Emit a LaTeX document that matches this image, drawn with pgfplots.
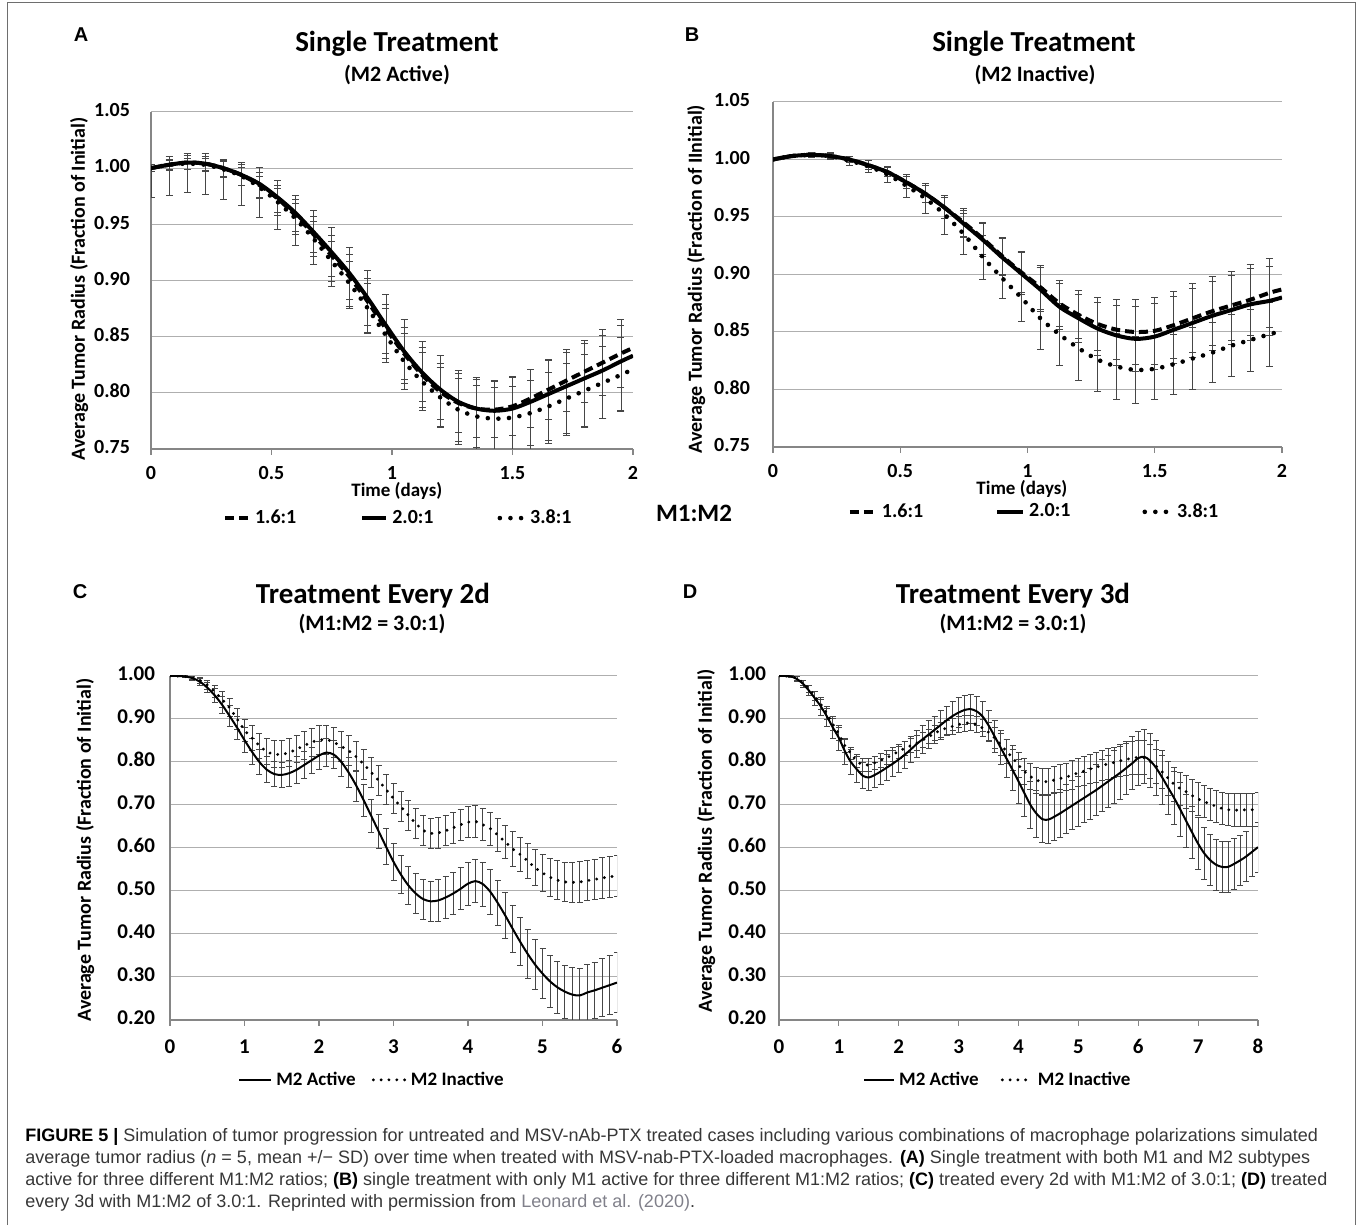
\documentclass[border=0pt]{standalone}
\usepackage{pgfplots}
\pgfplotsset{compat=1.18}
\usepackage{pgfplotstable}
\usepackage{fontspec}
\setmainfont{Carlito}
\newfontfamily\capfont{Liberation Sans}
\definecolor{axisgray}{RGB}{134,134,134}
\definecolor{gridgray}{RGB}{175,175,175}
\definecolor{errgray}{RGB}{70,70,70}
\definecolor{captext}{RGB}{55,55,55}
\definecolor{linkgray}{RGB}{128,128,138}
\definecolor{framegray}{RGB}{110,110,110}

% Panel A: t, 1.6:1, 2.0:1, 3.8:1, SD(+/-) of 2.0:1, SD of 1.6:1, SD of 3.8:1
\pgfplotstableread{
t     s16   s20   s38   p20   m20   e16   e38
0.000 1.000 1.000 1.000 0.003 0.026 0.003 0.003
0.075 1.003 1.003 1.003 0.007 0.027 0.005 0.004
0.150 1.005 1.005 1.004 0.008 0.027 0.006 0.005
0.225 1.004 1.004 1.003 0.009 0.027 0.006 0.006
0.300 1.000 1.000 0.999 0.008 0.028 0.007 0.007
0.375 0.994 0.994 0.993 0.011 0.027 0.009 0.008
0.450 0.985 0.986 0.983 0.015 0.030 0.011 0.010
0.525 0.973 0.974 0.970 0.015 0.029 0.012 0.012
0.600 0.958 0.960 0.955 0.016 0.029 0.014 0.014
0.675 0.941 0.943 0.937 0.019 0.029 0.016 0.016
0.750 0.922 0.925 0.917 0.022 0.030 0.018 0.018
0.825 0.903 0.906 0.897 0.023 0.031 0.020 0.020
0.900 0.881 0.884 0.875 0.025 0.030 0.021 0.022
0.975 0.857 0.860 0.851 0.028 0.029 0.022 0.024
1.050 0.835 0.837 0.828 0.028 0.029 0.023 0.025
1.125 0.816 0.818 0.810 0.028 0.031 0.024 0.026
1.200 0.801 0.803 0.796 0.030 0.033 0.025 0.027
1.275 0.791 0.792 0.785 0.028 0.038 0.026 0.028
1.350 0.786 0.786 0.779 0.028 0.036 0.026 0.028
1.425 0.785 0.784 0.777 0.027 0.035 0.025 0.028
1.500 0.788 0.786 0.778 0.029 0.037 0.026 0.028
1.575 0.795 0.792 0.782 0.029 0.042 0.026 0.029
1.650 0.803 0.799 0.788 0.030 0.044 0.027 0.030
1.725 0.811 0.806 0.795 0.030 0.044 0.028 0.031
1.800 0.819 0.813 0.802 0.031 0.044 0.028 0.032
1.875 0.827 0.820 0.809 0.031 0.043 0.029 0.032
1.950 0.835 0.828 0.816 0.032 0.044 0.030 0.033
2.000 0.840 0.833 0.821 0.000 0.000 0.000 0.000
}\tabA

% Panel B: t, 1.6:1, 2.0:1, 3.8:1, SD (1.6:1 and 2.0:1), SD (3.8:1)
\pgfplotstableread{
t     b16   b20   b38   e20   e38
0.000 1.000 1.000 1.000 0.001 0.001
0.075 1.003 1.003 1.003 0.001 0.001
0.150 1.004 1.004 1.004 0.002 0.002
0.225 1.003 1.003 1.003 0.002 0.003
0.300 1.000 1.000 0.999 0.003 0.004
0.375 0.995 0.995 0.994 0.004 0.005
0.450 0.989 0.989 0.987 0.004 0.007
0.525 0.980 0.980 0.977 0.005 0.010
0.600 0.970 0.970 0.966 0.007 0.013
0.675 0.958 0.958 0.952 0.009 0.017
0.750 0.945 0.944 0.935 0.012 0.018
0.825 0.931 0.930 0.915 0.014 0.019
0.900 0.916 0.915 0.897 0.016 0.018
0.975 0.902 0.901 0.880 0.018 0.021
1.050 0.889 0.887 0.862 0.019 0.027
1.125 0.875 0.872 0.848 0.020 0.027
1.200 0.865 0.862 0.836 0.021 0.028
1.275 0.857 0.853 0.826 0.023 0.028
1.350 0.852 0.847 0.820 0.026 0.029
1.425 0.850 0.844 0.817 0.028 0.029
1.500 0.851 0.846 0.818 0.029 0.027
1.575 0.856 0.852 0.822 0.029 0.026
1.650 0.862 0.858 0.827 0.030 0.027
1.725 0.868 0.864 0.832 0.030 0.026
1.800 0.873 0.869 0.838 0.030 0.027
1.875 0.878 0.874 0.843 0.031 0.027
1.950 0.884 0.877 0.848 0.030 0.028
2.000 0.887 0.880 0.851 0.000 0.000
}\tabB

% Panel C: t, M2 active, SD, M2 inactive, SD
\pgfplotstableread{
t   a     sa    b     sb
0.0 1.000 0.000 1.000 0.000
0.1 1.000 0.001 1.000 0.001
0.2 0.999 0.002 0.999 0.002
0.3 0.995 0.005 0.996 0.004
0.4 0.987 0.008 0.990 0.007
0.5 0.973 0.012 0.979 0.010
0.6 0.955 0.016 0.963 0.014
0.7 0.933 0.020 0.945 0.018
0.8 0.907 0.024 0.926 0.021
0.9 0.880 0.027 0.900 0.024
1.0 0.851 0.029 0.874 0.026
1.1 0.824 0.030 0.856 0.028
1.2 0.800 0.030 0.838 0.029
1.3 0.782 0.030 0.824 0.030
1.4 0.772 0.030 0.818 0.031
1.5 0.770 0.030 0.818 0.031
1.6 0.774 0.030 0.822 0.032
1.7 0.782 0.031 0.830 0.032
1.8 0.793 0.031 0.838 0.033
1.9 0.804 0.031 0.846 0.033
2.0 0.815 0.032 0.851 0.034
2.1 0.822 0.032 0.852 0.034
2.2 0.817 0.033 0.846 0.035
2.3 0.800 0.034 0.836 0.035
2.4 0.775 0.035 0.826 0.035
2.5 0.745 0.036 0.812 0.035
2.6 0.711 0.037 0.795 0.035
2.7 0.675 0.039 0.776 0.035
2.8 0.639 0.040 0.757 0.035
2.9 0.603 0.042 0.736 0.035
3.0 0.568 0.043 0.715 0.035
3.1 0.538 0.044 0.696 0.035
3.2 0.513 0.045 0.676 0.035
3.3 0.494 0.046 0.657 0.035
3.4 0.481 0.047 0.641 0.035
3.5 0.476 0.047 0.634 0.035
3.6 0.478 0.048 0.635 0.035
3.7 0.485 0.048 0.640 0.035
3.8 0.494 0.049 0.647 0.036
3.9 0.505 0.049 0.654 0.036
4.0 0.517 0.050 0.660 0.036
4.1 0.523 0.050 0.662 0.037
4.2 0.516 0.051 0.654 0.037
4.3 0.498 0.052 0.645 0.038
4.4 0.472 0.053 0.630 0.038
4.5 0.443 0.054 0.614 0.039
4.6 0.412 0.055 0.598 0.040
4.7 0.382 0.056 0.585 0.040
4.8 0.354 0.057 0.570 0.041
4.9 0.329 0.058 0.554 0.042
5.0 0.308 0.059 0.542 0.043
5.1 0.290 0.060 0.532 0.044
5.2 0.276 0.061 0.525 0.045
5.3 0.266 0.062 0.521 0.046
5.4 0.259 0.063 0.520 0.047
5.5 0.257 0.064 0.521 0.048
5.6 0.264 0.065 0.524 0.047
5.7 0.269 0.066 0.527 0.047
5.8 0.275 0.067 0.530 0.047
5.9 0.281 0.068 0.533 0.047
6.0 0.287 0.070 0.535 0.047
}\tabC

% Panel D: t, M2 active, SD, M2 inactive, SD
\pgfplotstableread{
t   a     sa    b     sb
0.0 1.000 0.000 1.000 0.000
0.1 1.000 0.001 1.000 0.001
0.2 0.999 0.002 0.999 0.002
0.3 0.993 0.005 0.994 0.004
0.4 0.982 0.008 0.984 0.006
0.5 0.966 0.012 0.970 0.008
0.6 0.948 0.016 0.953 0.010
0.7 0.929 0.020 0.934 0.012
0.8 0.906 0.023 0.912 0.013
0.9 0.880 0.026 0.888 0.014
1.0 0.856 0.028 0.865 0.015
1.1 0.825 0.030 0.838 0.015
1.2 0.800 0.030 0.820 0.015
1.3 0.783 0.030 0.802 0.015
1.4 0.768 0.030 0.794 0.015
1.5 0.764 0.030 0.793 0.015
1.6 0.770 0.030 0.798 0.015
1.7 0.778 0.030 0.804 0.016
1.8 0.787 0.030 0.810 0.016
1.9 0.796 0.030 0.817 0.016
2.0 0.806 0.031 0.825 0.016
2.1 0.817 0.031 0.832 0.016
2.2 0.829 0.031 0.838 0.016
2.3 0.842 0.032 0.844 0.017
2.4 0.853 0.032 0.851 0.017
2.5 0.864 0.032 0.859 0.017
2.6 0.875 0.032 0.867 0.017
2.7 0.886 0.033 0.874 0.017
2.8 0.897 0.033 0.879 0.017
2.9 0.907 0.033 0.883 0.018
3.0 0.915 0.034 0.887 0.018
3.1 0.921 0.034 0.890 0.018
3.2 0.923 0.034 0.891 0.018
3.3 0.918 0.034 0.887 0.018
3.4 0.906 0.034 0.879 0.020
3.5 0.885 0.035 0.869 0.022
3.6 0.860 0.037 0.856 0.024
3.7 0.834 0.040 0.841 0.026
3.8 0.808 0.044 0.825 0.028
3.9 0.782 0.048 0.810 0.029
4.0 0.755 0.051 0.793 0.030
4.1 0.727 0.053 0.778 0.030
4.2 0.700 0.054 0.766 0.030
4.3 0.680 0.055 0.758 0.030
4.4 0.667 0.055 0.754 0.030
4.5 0.666 0.056 0.755 0.031
4.6 0.673 0.056 0.758 0.031
4.7 0.681 0.056 0.762 0.032
4.8 0.690 0.057 0.765 0.032
4.9 0.699 0.057 0.770 0.033
5.0 0.708 0.058 0.775 0.033
5.1 0.717 0.058 0.779 0.034
5.2 0.726 0.059 0.784 0.034
5.3 0.735 0.059 0.788 0.035
5.4 0.745 0.060 0.792 0.035
5.5 0.755 0.060 0.796 0.036
5.6 0.765 0.061 0.799 0.036
5.7 0.775 0.061 0.803 0.037
5.8 0.786 0.062 0.806 0.038
5.9 0.797 0.062 0.809 0.039
6.0 0.809 0.063 0.811 0.040
6.1 0.812 0.063 0.810 0.040
6.2 0.803 0.063 0.801 0.040
6.3 0.786 0.063 0.790 0.040
6.4 0.764 0.062 0.777 0.039
6.5 0.740 0.062 0.762 0.039
6.6 0.716 0.062 0.748 0.039
6.7 0.690 0.062 0.738 0.038
6.8 0.663 0.061 0.731 0.038
6.9 0.636 0.061 0.722 0.038
7.0 0.610 0.061 0.714 0.038
7.1 0.588 0.060 0.708 0.037
7.2 0.572 0.060 0.702 0.037
7.3 0.561 0.060 0.697 0.037
7.4 0.556 0.059 0.692 0.037
7.5 0.556 0.059 0.689 0.037
7.6 0.563 0.059 0.688 0.038
7.7 0.571 0.059 0.688 0.038
7.8 0.580 0.058 0.689 0.039
7.9 0.591 0.058 0.689 0.039
8.0 0.602 0.058 0.690 0.040
}\tabD

\pgfplotsset{
  base/.style={
    scale only axis, anchor=south west, enlargelimits=false, clip=true,
    axis x line*=bottom, axis y line*=left,
    axis line style={draw=axisgray, line width=0.6pt, -},
    every outer x axis line/.append style={-},
    every outer y axis line/.append style={-},
    ymajorgrids, grid style={draw=gridgray, line width=0.5pt},
    tick align=outside, major tick length=3pt,
    xtick style={draw=axisgray, line width=0.6pt},
    ytick style={draw=none},
    typeset ticklabels with strut,
    /pgf/number format/assume math mode=true,
    ticklabel style={font=\bfseries\fontsize{10}{12}\selectfont},
    yticklabel style={/pgf/number format/fixed, /pgf/number format/fixed zerofill, /pgf/number format/precision=2},
    legend style={draw=none, fill=none, font=\bfseries\fontsize{10}{12}\selectfont, legend columns=3, anchor=center},
    legend cell align=left,
    every axis y label/.style={rotate=90, anchor=center, font=\bfseries\fontsize{10}{12}\selectfont},
    every axis x label/.style={anchor=center, font=\bfseries\fontsize{9.5}{11}\selectfont},
    error bars/error bar style={draw=errgray, line width=0.45pt, solid},
    error bars/error mark options={draw=errgray, line width=0.45pt, mark size=1.75pt, solid, rotate=90},
  },
  ebar/.style={draw=none, mark=none, forget plot, error bars/y dir=both, error bars/y explicit},
  solidA/.style={black, line width=2pt, smooth, mark=none},
  dashA/.style={black, line width=2pt, smooth, mark=none, dash pattern=on 4.5pt off 2.5pt},
  dotA/.style={black, line width=2.3pt, smooth, mark=none, line cap=round, dash pattern=on 0pt off 5.3pt},
  solidC/.style={black, line width=1pt, smooth, mark=none},
  dotC/.style={black, line width=1.6pt, smooth, mark=none, line cap=round, dash pattern=on 0pt off 3.9pt},
}

\begin{document}
\begin{tikzpicture}
\path[use as bounding box] (0,0) rectangle (679pt,612.5pt);
\draw[framegray, line width=0.8pt] (3.75pt,0pt) -- (3.75pt,611.25pt) -- (677.75pt,611.25pt) -- (677.75pt,0pt);

% ---------- Panel A ----------
\node[font=\capfont\bfseries\fontsize{10}{12}\selectfont] at (40.5pt,595pt) {A};
\node[font=\bfseries\fontsize{14.5}{17}\selectfont] at (198.5pt,590.5pt) {Single Treatment};
\node[font=\bfseries\fontsize{11}{13}\selectfont] at (198.5pt,575pt) {(M2 Active)};
\begin{axis}[base, at={(75.5pt,388pt)}, width=241pt, height=168.5pt,
  xmin=0, xmax=2, ymin=0.75, ymax=1.05,
  xtick={0,0.5,1,1.5,2}, ytick={0.75,0.8,0.85,0.9,0.95,1,1.05},
  xticklabel style={yshift=-0.5pt}, yticklabel style={xshift=-4pt},
  xlabel={Time (days)}, ylabel={Average Tumor Radius (Fraction of Initial)},
  xlabel style={at={(axis description cs:0.51,-0.125)}},
  ylabel style={at={(axis description cs:-0.149,0.475)}},
  legend style={at={(0.515,-0.205)}, /tikz/every even column/.append style={column sep=30pt}},
  legend image code/.code={\draw[#1] (0pt,0pt) -- (12pt,0pt);},
]
\addplot[restrict x to domain=0:1.96, ebar] table[x=t, y=s16, y error=e16] {\tabA};
\addplot[restrict x to domain=0:1.96, ebar] table[x=t, y=s38, y error=e38] {\tabA};
\addplot[restrict x to domain=0:1.96, ebar] table[x=t, y=s20, y error plus=p20, y error minus=m20] {\tabA};
\addplot[dashA] table[x=t, y=s16] {\tabA};
\addlegendentry{1.6:1}
\addplot[solidA] table[x=t, y=s20] {\tabA};
\addlegendentry{2.0:1}
\addplot[dotA] table[x=t, y=s38] {\tabA};
\addlegendentry{3.8:1}
\end{axis}

% ---------- Panel B ----------
\node[font=\capfont\bfseries\fontsize{10}{12}\selectfont] at (346pt,595pt) {B};
\node[font=\bfseries\fontsize{14.5}{17}\selectfont] at (517pt,590.5pt) {Single Treatment};
\node[font=\bfseries\fontsize{11}{13}\selectfont] at (517.5pt,575pt) {(M2 Inactive)};
\node[font=\bfseries\fontsize{12.5}{15}\selectfont] at (347pt,356pt) {M1:M2};
\begin{axis}[base, at={(386.5pt,389pt)}, width=254.5pt, height=172.5pt,
  xmin=0, xmax=2, ymin=0.75, ymax=1.05,
  xtick={0,0.5,1,1.5,2}, ytick={0.75,0.8,0.85,0.9,0.95,1,1.05},
  xticklabel style={yshift=-0.5pt}, yticklabel style={xshift=-5pt},
  xlabel={Time (days)}, ylabel={Average Tumor Radius (Fraction of IInitial)},
  xlabel style={at={(axis description cs:0.489,-0.122)}},
  ylabel style={at={(axis description cs:-0.151,0.487)}},
  legend style={at={(0.515,-0.188)}, /tikz/every even column/.append style={column sep=34pt}},
  legend image code/.code={\draw[#1] (0pt,0pt) -- (13pt,0pt);},
]
\addplot[restrict x to domain=0:1.96, ebar] table[x=t, y=b16, y error=e20] {\tabB};
\addplot[restrict x to domain=0:1.96, ebar] table[x=t, y=b38, y error=e38] {\tabB};
\addplot[restrict x to domain=0:1.96, ebar] table[x=t, y=b20, y error=e20] {\tabB};
\addplot[dashA] table[x=t, y=b16] {\tabB};
\addlegendentry{1.6:1}
\addplot[solidA] table[x=t, y=b20] {\tabB};
\addlegendentry{2.0:1}
\addplot[dotA] table[x=t, y=b38] {\tabB};
\addlegendentry{3.8:1}
\end{axis}

% ---------- Panel C ----------
\node[font=\capfont\bfseries\fontsize{10}{12}\selectfont] at (40pt,316.5pt) {C};
\node[font=\bfseries\fontsize{14.5}{17}\selectfont] at (186.5pt,314.5pt) {Treatment Every 2d};
\node[font=\bfseries\fontsize{11}{13}\selectfont] at (186pt,300.5pt) {(M1:M2 = 3.0:1)};
\begin{axis}[base, at={(85pt,102.5pt)}, width=223.5pt, height=172pt,
  xmin=0, xmax=6, ymin=0.2, ymax=1.0,
  xtick={0,1,...,6}, ytick={0.2,0.3,0.4,0.5,0.6,0.7,0.8,0.9,1.0},
  ticklabel style={font=\bfseries\fontsize{10.5}{12}\selectfont},
  xticklabel style={yshift=-2pt}, yticklabel style={xshift=-1pt},
  ylabel={Average Tumor Radius (Fraction of Initial)},
  ylabel style={at={(axis description cs:-0.19,0.494)}},
  legend style={at={(0.454,-0.174)}, font=\bfseries\fontsize{9.5}{11}\selectfont, /tikz/every even column/.append style={column sep=6pt}},
  legend image code/.code={\draw[#1] (0pt,0pt) -- (16pt,0pt);},
  error bars/error mark options={draw=errgray, line width=0.45pt, mark size=1.5pt, solid, rotate=90},
]
\addplot[ebar] table[x=t, y=b, y error=sb] {\tabC};
\addplot[ebar] table[x=t, y=a, y error=sa] {\tabC};
\addplot[solidC] table[x=t, y=a] {\tabC};
\addlegendentry{M2 Active}
\addplot[dotC] table[x=t, y=b] {\tabC};
\addlegendentry{M2 Inactive}
\end{axis}

% ---------- Panel D ----------
\node[font=\capfont\bfseries\fontsize{10}{12}\selectfont] at (345pt,316.5pt) {D};
\node[font=\bfseries\fontsize{14.5}{17}\selectfont] at (506.5pt,314.5pt) {Treatment Every 3d};
\node[font=\bfseries\fontsize{11}{13}\selectfont] at (506.5pt,300.5pt) {(M1:M2 = 3.0:1)};
\begin{axis}[base, at={(389.5pt,102.5pt)}, width=239.5pt, height=172pt,
  xmin=0, xmax=8, ymin=0.2, ymax=1.0,
  xtick={0,1,...,8}, ytick={0.2,0.3,0.4,0.5,0.6,0.7,0.8,0.9,1.0},
  ticklabel style={font=\bfseries\fontsize{10.5}{12}\selectfont},
  xticklabel style={yshift=-2pt}, yticklabel style={xshift=0pt},
  ylabel={Average Tumor Radius (Fraction of Initial)},
  ylabel style={at={(axis description cs:-0.152,0.52)}},
  legend style={at={(0.459,-0.174)}, font=\bfseries\fontsize{9.5}{11}\selectfont, /tikz/every even column/.append style={column sep=9pt}},
  legend image code/.code={\draw[#1] (0pt,0pt) -- (15pt,0pt);},
  error bars/error mark options={draw=errgray, line width=0.45pt, mark size=1.5pt, solid, rotate=90},
]
\addplot[ebar] table[x=t, y=b, y error=sb] {\tabD};
\addplot[ebar] table[x=t, y=a, y error=sa] {\tabD};
\addplot[solidC] table[x=t, y=a] {\tabD};
\addlegendentry{M2 Active}
\addplot[dotC] table[x=t, y=b] {\tabD};
\addlegendentry{M2 Inactive}
\end{axis}

% ---------- Caption ----------
\begin{scope}[every node/.style={anchor=base west, inner sep=0pt, font=\capfont\fontsize{9}{11}\selectfont, text=captext}]
\node at (12.5pt,42pt) {{\color{black}\textbf{FIGURE 5 |}} Simulation of tumor progression for untreated and MSV-nAb-PTX treated cases including various combinations of macrophage polarizations simulated};
\node at (12.5pt,31pt) {average tumor radius (\textit{n} = 5, mean +/− SD) over time when treated with MSV-nab-PTX-loaded macrophages. {\color{black}\textbf{(A)}} Single treatment with both M1 and M2 subtypes};
\node at (12.5pt,20pt) {active for three different M1:M2 ratios; {\color{black}\textbf{(B)}} single treatment with only M1 active for three different M1:M2 ratios; {\color{black}\textbf{(C)}} treated every 2d with M1:M2 of 3.0:1; {\color{black}\textbf{(D)}} treated};
\node at (12.5pt,9pt) {every 3d with M1:M2 of 3.0:1. Reprinted with permission from {\color{linkgray}Leonard et al. (2020)}.};
\end{scope}
\end{tikzpicture}
\end{document}
